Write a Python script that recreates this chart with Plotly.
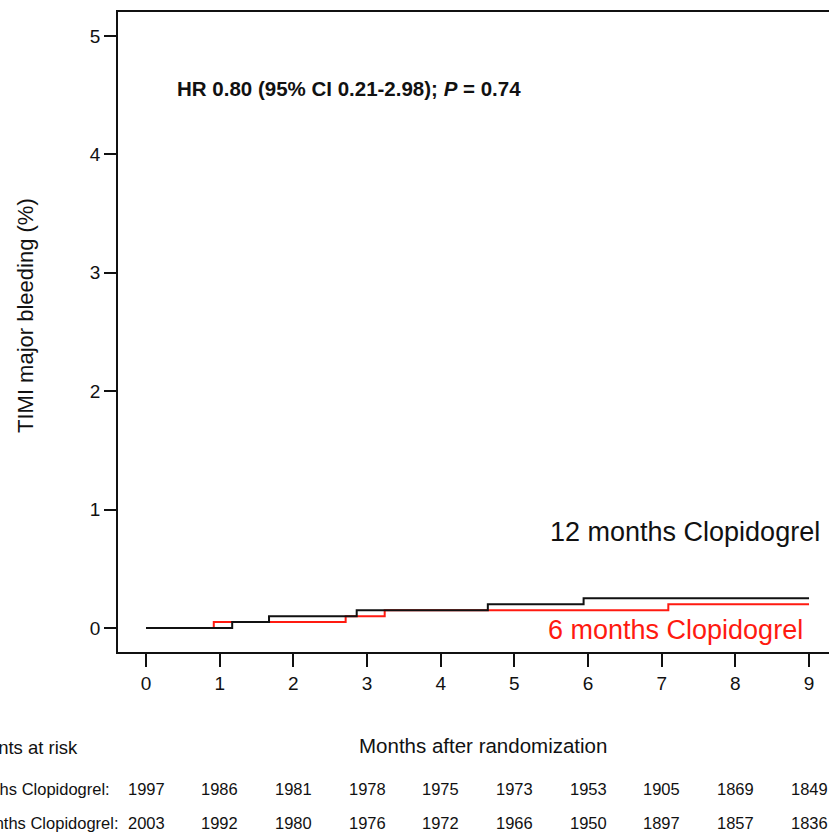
import plotly.graph_objects as go

# Kaplan-Meier style step data (months, cumulative %)
t12 = [0, 1.17, 1.67, 2.86, 4.64, 5.94, 9]
y12 = [0, 0.05, 0.10, 0.15, 0.20, 0.25, 0.25]
t6 = [0, 0.92, 2.71, 3.24, 7.09, 9]
y6 = [0, 0.05, 0.10, 0.15, 0.20, 0.20]

months = list(range(10))
risk12 = [1997, 1986, 1981, 1978, 1975, 1973, 1953, 1905, 1869, 1849]
risk6 = [2003, 1992, 1980, 1976, 1972, 1966, 1950, 1897, 1857, 1836]

FONT = "Liberation Sans, Arial, sans-serif"
RED = "#ff1a10"
BLK = "#111111"

W, H = 829, 834
# reference pixel geometry
BOX_L, BOX_T, BOX_B = 118, 12, 652
X0PX, PXM = 146, 73.67  # x=0 position and px per month

L = BOX_L
T = BOX_T
B = H - BOX_B
R = 0
pw = W - L - R
ph = H - T - B

def px2paperx(px):
    return (px - L) / pw

def px2papery(py):
    return (H - B - py) / ph

ann = []
ann.append(dict(x=0.39, y=4.56, xref="x", yref="y", xanchor="left", yanchor="middle",
                text="<b>HR 0.80 (95% CI 0.21-2.98); <i>P</i> = 0.74</b>", showarrow=False,
                font=dict(size=20.5, color=BLK, family=FONT)))
ann.append(dict(x=9.18, y=0.81, xref="x", yref="y", xanchor="right", yanchor="middle",
                text="12 months Clopidogrel", showarrow=False,
                font=dict(size=27, color=BLK, family=FONT)))
ann.append(dict(x=8.945, y=-0.017, xref="x", yref="y", xanchor="right", yanchor="middle",
                text="6 months Clopidogrel", showarrow=False,
                font=dict(size=27, color=RED, family=FONT)))
# axis titles
ann.append(dict(x=4.575, y=px2papery(745), xref="x", yref="paper", xanchor="center", yanchor="middle",
                text="Months after randomization", showarrow=False,
                font=dict(size=20.5, color=BLK, family=FONT)))
ann.append(dict(x=px2paperx(25), y=px2papery(315), xref="paper", yref="paper", xanchor="center",
                yanchor="middle", textangle=-90, text="TIMI major bleeding (%)", showarrow=False,
                font=dict(size=22, color=BLK, family=FONT)))
# risk table
ann.append(dict(x=px2paperx(80), y=px2papery(747), xref="paper", yref="paper", xanchor="right",
                yanchor="middle", text="Patients at risk", showarrow=False,
                font=dict(size=18.5, color=BLK, family=FONT)))
ann.append(dict(x=px2paperx(112), y=px2papery(789), xref="paper", yref="paper", xanchor="right",
                yanchor="middle", text="12 months Clopidogrel:", showarrow=False,
                font=dict(size=16.5, color=BLK, family=FONT)))
ann.append(dict(x=px2paperx(121), y=px2papery(823), xref="paper", yref="paper", xanchor="right",
                yanchor="middle", text="6 months Clopidogrel:", showarrow=False,
                font=dict(size=16.5, color=BLK, family=FONT)))
for m, a, b in zip(months, risk12, risk6):
    ann.append(dict(x=m, y=px2papery(789), xref="x", yref="paper", xanchor="center", yanchor="middle",
                    text=str(a), showarrow=False, font=dict(size=16.5, color=BLK, family=FONT)))
    ann.append(dict(x=m, y=px2papery(823), xref="x", yref="paper", xanchor="center", yanchor="middle",
                    text=str(b), showarrow=False, font=dict(size=16.5, color=BLK, family=FONT)))

fig = go.Figure()
fig.add_trace(go.Scatter(x=t6, y=y6, mode="lines", line=dict(color=RED, width=2, shape="hv"),
                         showlegend=False, hoverinfo="skip"))
fig.add_trace(go.Scatter(x=t12, y=y12, mode="lines", line=dict(color=BLK, width=2, shape="hv"),
                         showlegend=False, hoverinfo="skip"))

xmin = (BOX_L - X0PX) / PXM
xmax = (W - X0PX) / PXM

fig.update_layout(
    width=W, height=H,
    margin=dict(l=L, r=R, t=T, b=B, autoexpand=False),
    paper_bgcolor="white", plot_bgcolor="white",
    annotations=ann,
    font=dict(family=FONT, color=BLK),
)
fig.update_xaxes(range=[xmin, xmax], tickvals=months, ticktext=[str(m) for m in months],
                 ticks="outside", ticklen=13, tickwidth=1.5, tickcolor=BLK,
                 showline=True, linecolor=BLK, linewidth=1.5, mirror=True,
                 showgrid=False, zeroline=False, tickfont=dict(size=19, family=FONT, color=BLK))
fig.update_yaxes(range=[-0.203, 5.203], tickvals=[0, 1, 2, 3, 4, 5],
                 ticks="outside", ticklen=12, tickwidth=1.5, tickcolor=BLK,
                 showline=True, linecolor=BLK, linewidth=1.5, mirror=False,
                 showgrid=False, zeroline=False, tickfont=dict(size=19, family=FONT, color=BLK))

fig.write_html("out.html", config={"displayModeBar": False},
               post_script="document.body.style.margin='0';document.body.style.overflow='hidden';")
